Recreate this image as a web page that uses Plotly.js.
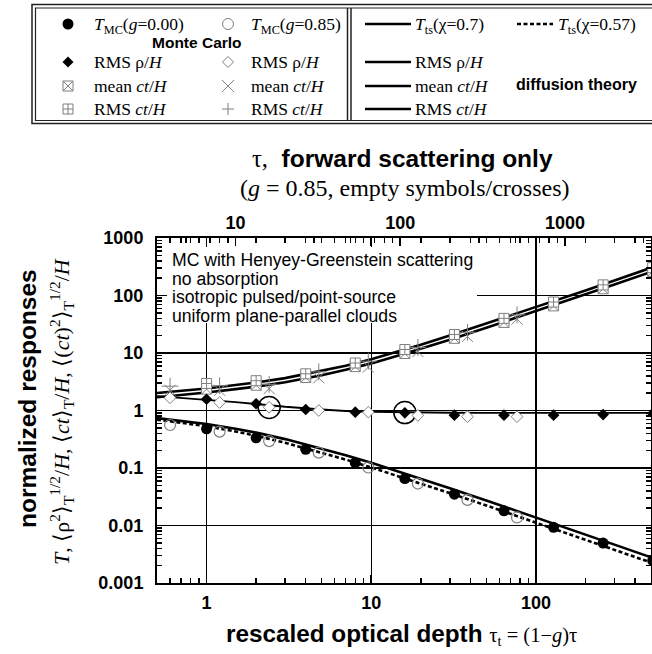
<!DOCTYPE html>
<html><head><meta charset="utf-8">
<script src="https://cdn.plot.ly/plotly-3.0.1.min.js"></script>
<style>html,body{margin:0;padding:0;background:#fff}#chart{width:652px;height:654px}</style>
</head><body><div id="chart"></div>
<script>
// ---------------- data ----------------
// Monte Carlo, g = 0.00 (filled symbols), abscissa = rescaled optical depth
const tauT_g0   = [1, 2, 4, 8, 16, 32, 64, 128, 256, 512];
const T_MC_g0   = [0.48, 0.335, 0.211, 0.124, 0.0655, 0.035, 0.018, 0.0093, 0.00495, 0.00245];
const rmsRho_g0 = [1.57, 1.31, 1.04, 0.935, 0.91, 0.83, 0.83, 0.83, 0.85, 0.89];
const meanCt_g0 = [2.35, 2.75, 3.75, 5.8, 9.8, 18, 34, 66, 131, 262];
const rmsCt_g0  = [2.95, 3.3, 4.35, 6.7, 11.5, 21, 40, 77, 153, 305];

// Monte Carlo, g = 0.85 (empty symbols / crosses), abscissa = optical depth tau (top axis)
const tau_g85    = [4, 8, 16, 32, 64, 128, 256, 512];
const T_MC_g85   = [0.56, 0.43, 0.294, 0.185, 0.102, 0.0537, 0.0279, 0.0138];
const rmsRho_g85 = [1.66, 1.38, 1.14, 1.0, 0.935, 0.82, 0.78, 0.78];
const meanCt_g85 = [2.25, 2.25, 2.4, 3.7, 5.7, 10.6, 19.4, 38.9];
const rmsCt_g85  = [2.65, 2.7, 2.85, 4.7, 7.2, 12.5, 22.9, 46];

// diffusion theory curves, abscissa = rescaled optical depth
const tauT_line   = [0.5, 0.7, 1, 1.5, 2, 3, 5, 7, 10, 15, 20, 30, 50, 70, 100, 150, 200, 300, 500];
const Ts_chi07    = [0.737, 0.667, 0.583, 0.483, 0.412, 0.318, 0.219, 0.167, 0.123, 0.0854, 0.0654, 0.0446, 0.0272, 0.0196, 0.0138, 0.00925, 0.00695, 0.00465, 0.00279];
const Ts_chi057   = [0.695, 0.620, 0.533, 0.432, 0.363, 0.275, 0.186, 0.140, 0.102, 0.0706, 0.0539, 0.0366, 0.0223, 0.0160, 0.0113, 0.00754, 0.00567, 0.00379, 0.00227];
const rmsRho_diff = [1.78, 1.66, 1.55, 1.40, 1.30, 1.16, 1.04, 0.98, 0.95, 0.93, 0.92, 0.915, 0.91, 0.91, 0.91, 0.91, 0.91, 0.91, 0.91];
const meanCt_diff = [1.70, 1.85, 2.05, 2.35, 2.6, 3.1, 4.1, 5.1, 6.6, 9.2, 11.8, 17, 27.5, 38, 53, 78, 103, 155, 257];
const rmsCt_diff  = [2.01, 2.18, 2.42, 2.77, 3.07, 3.66, 4.84, 6.0, 7.8, 10.9, 13.9, 20.1, 32.5, 44.8, 62.5, 92, 122, 183, 303];

// circled points
const circled_tauT = [2.4, 16];
const circled_val  = [1.13, 0.92];

// tick labels
const xTicks  = [1, 10, 100];
const xLabels = ['1', '10', '100'];
const x2Ticks = [10, 100, 1000];
const x2Labels = ['10', '100', '1000'];
const yTicks  = [0.001, 0.01, 0.1, 1, 10, 100, 1000];
const yLabels = ['0.001', '0.01', '0.1', '1', '10', '100', '1000'];

// ---------------- layout helpers ----------------
const Lp = 157, Rp = 651, Tp = 238, Bp = 583;
const px = x => (x - Lp) / (Rp - Lp);
const py = y => (Bp - y) / (Bp - Tp);
const GRAY = '#7f7f7f';
const SANS = 'Liberation Sans, Arial, sans-serif';
const SERIF = 'Liberation Serif, Times New Roman, serif';

function minorLog(lo, hi) {
  const v = [];
  for (let e = Math.floor(Math.log10(lo)); e <= Math.ceil(Math.log10(hi)); e++)
    for (let d = 2; d <= 9; d++) { const t = d * Math.pow(10, e); if (t > lo && t < hi) v.push(t); }
  return v;
}

// ---------------- traces ----------------
const traces = [];
// empty circles under the lines
traces.push({x: tau_g85, y: T_MC_g85, xaxis: 'x2', yaxis: 'y', mode: 'markers',
  marker: {symbol: 'circle-open', size: 11, color: GRAY, line: {width: 1.2, color: GRAY}}});
// diffusion theory
const lineStyle = {color: '#000', width: 2.6};
traces.push({x: tauT_line, y: Ts_chi057, mode: 'lines', line: {color: '#000', width: 2.6, dash: '4px,2.5px'}});
traces.push({x: tauT_line, y: Ts_chi07, mode: 'lines', line: lineStyle});
traces.push({x: tauT_line, y: rmsRho_diff, mode: 'lines', line: {color: '#000', width: 1.9}});
traces.push({x: tauT_line, y: meanCt_diff, mode: 'lines', line: lineStyle});
traces.push({x: tauT_line, y: rmsCt_diff, mode: 'lines', line: lineStyle});
// g = 0 MC
traces.push({x: tauT_g0, y: meanCt_g0, mode: 'markers',
  marker: {symbol: 'square-x', size: 10, color: '#fff', line: {width: 1, color: GRAY}}});
traces.push({x: tauT_g0, y: rmsCt_g0, mode: 'markers',
  marker: {symbol: 'square-cross', size: 10, color: '#fff', line: {width: 1, color: GRAY}}});
traces.push({x: tauT_g0, y: T_MC_g0, mode: 'markers',
  marker: {symbol: 'circle', size: 11, color: '#000'}});
// g = 0.85 MC
traces.push({x: tau_g85, y: meanCt_g85, xaxis: 'x2', yaxis: 'y', mode: 'markers',
  marker: {symbol: 'x-thin-open', size: 11, color: GRAY, line: {width: 1, color: GRAY}}});
traces.push({x: tau_g85, y: rmsCt_g85, xaxis: 'x2', yaxis: 'y', mode: 'markers',
  marker: {symbol: 'cross-thin-open', size: 12, color: GRAY, line: {width: 1, color: GRAY}}});
traces.push({x: tau_g85, y: rmsRho_g85, xaxis: 'x2', yaxis: 'y', mode: 'markers',
  marker: {symbol: 'diamond', size: 9, color: '#fff', line: {width: 1, color: GRAY}}});
traces.push({x: tauT_g0, y: rmsRho_g0, mode: 'markers',
  marker: {symbol: 'diamond', size: 9, color: '#000', line: {width: 0}}});
// circled points
traces.push({x: circled_tauT, y: circled_val, mode: 'markers',
  marker: {symbol: 'circle-open', size: 22, color: '#000', line: {width: 1.5, color: '#000'}}});

// ---------------- axes ----------------
const tickFont = {family: SANS, size: 18, color: '#000', weight: 'bold'};
const axCommon = {
  type: 'log', ticks: 'inside', ticklen: 8, tickwidth: 1.5, tickcolor: '#000',
  showline: true, linecolor: '#000', linewidth: 2, zeroline: false, tickfont: tickFont,
  tickmode: 'array'
};
const xMin = 0.5, xMax = 500, g = 0.85;
const layout = {
  width: 652, height: 654, showlegend: false,
  paper_bgcolor: '#fff', plot_bgcolor: '#fff',
  font: {family: SANS, color: '#000'},
  margin: {l: Lp, r: 652 - Rp, t: Tp, b: 654 - Bp, pad: 0},
  xaxis: Object.assign({}, axCommon, {
    range: [Math.log10(xMin), Math.log10(xMax)], tickvals: xTicks, ticktext: xLabels,
    showgrid: true, gridcolor: '#000', gridwidth: 1.4, mirror: 'ticks', ticklabelstandoff: 2,
    minor: {tickmode: 'array', tickvals: minorLog(xMin, xMax), ticks: 'inside', ticklen: 5,
            tickwidth: 1.5, tickcolor: '#000', showgrid: false}
  }),
  xaxis2: Object.assign({}, axCommon, {
    overlaying: 'x', side: 'top', anchor: 'y',
    range: [Math.log10(xMin / (1 - g)), Math.log10(xMax / (1 - g))], tickvals: x2Ticks, ticktext: x2Labels,
    showgrid: false, ticklabelstandoff: 0,
    minor: {tickmode: 'array', tickvals: minorLog(xMin / (1 - g), xMax / (1 - g)), ticks: 'inside', ticklen: 5,
            tickwidth: 1.5, tickcolor: '#000', showgrid: false}
  }),
  yaxis: Object.assign({}, axCommon, {
    range: [-3, 3], tickvals: yTicks, ticktext: yLabels,
    showgrid: true, gridcolor: '#000', gridwidth: 1.4, mirror: 'ticks', ticklabelstandoff: 8,
    minor: {tickmode: 'array', tickvals: minorLog(0.001, 1000), ticks: 'inside', ticklen: 5,
            tickwidth: 1.5, tickcolor: '#000', showgrid: false}
  }),
  shapes: [], annotations: []
};

// white box behind the note text
layout.shapes.push({type: 'rect', xref: 'paper', yref: 'paper', layer: 'above',
  x0: px(167), x1: px(477), y0: py(247), y1: py(323), fillcolor: '#fff', line: {width: 0}});
const note = ['MC with Henyey-Greenstein scattering', 'no absorption',
              'isotropic pulsed/point-source', 'uniform plane-parallel clouds'];
const noteY = [260, 278.5, 297, 315.5];
note.forEach((t, i) => layout.annotations.push({xref: 'paper', yref: 'paper', x: px(171), y: py(noteY[i]),
  xanchor: 'left', yanchor: 'middle', showarrow: false, borderpad: 0, text: t, font: {family: SANS, size: 17.6, color: '#000'}}));

// titles
const ann = (o) => layout.annotations.push(Object.assign({xref: 'paper', yref: 'paper', showarrow: false,
  xanchor: 'center', yanchor: 'middle'}, o));
ann({x: px(402), y: py(158), text: '<span style="font-family:Liberation Serif">τ,</span>  <b>forward scattering only</b>',
     font: {family: SANS, size: 24.5, color: '#000'}});
ann({x: px(405), y: py(188), text: '(<i>g</i> = 0.85, empty symbols/crosses)',
     font: {family: SERIF, size: 24, color: '#000'}});
ann({x: px(401), y: py(634), text: '<b>rescaled optical depth</b> <span style="font-family:Liberation Serif;font-size:20.5px">τ<sub>t</sub> = (1−<i>g</i>)τ</span>',
     font: {family: SANS, size: 24.3, color: '#000'}});
ann({x: px(27), y: py(399), textangle: -90, text: '<b>normalized responses</b>',
     font: {family: SANS, size: 24.5, color: '#000'}});
ann({x: px(61), y: py(412), textangle: -90,
     text: '<i>T</i>, ⟨ρ<sup>2</sup>⟩<sub>T</sub><sup>1/2</sup>/<i>H</i>, ⟨<i>ct</i>⟩<sub>T</sub>/<i>H</i>, ⟨(<i>ct</i>)<sup>2</sup>⟩<sub>T</sub><sup>1/2</sup>/<i>H</i>',
     font: {family: SERIF, size: 22, color: '#000'}});

// ---------------- custom legend ----------------
const S = layout.shapes;
const box = (x0, y0, x1, y1, w) => S.push({type: 'rect', xref: 'paper', yref: 'paper',
  x0: px(x0), x1: px(x1), y0: py(y0), y1: py(y1), line: {color: '#222', width: w}, fillcolor: 'rgba(0,0,0,0)'});
box(32, 4.5, 660, 123.5, 1.5);
box(35.5, 8, 660, 120.5, 1.2);
const vline = (x, y0, y1, w) => S.push({type: 'line', xref: 'paper', yref: 'paper',
  x0: px(x), x1: px(x), y0: py(y0), y1: py(y1), line: {color: '#222', width: w}});
vline(347.5, 8, 120.5, 1.5);
vline(351, 8, 120.5, 1.5);
const sym = (cx, cy, o) => S.push(Object.assign({xref: 'paper', yref: 'paper', xsizemode: 'pixel', ysizemode: 'pixel',
  xanchor: px(cx), yanchor: py(cy)}, o));
const rows = [24, 62, 86, 109];
// left column (g=0): filled
sym(68, rows[0], {type: 'circle', x0: -5.5, x1: 5.5, y0: -5.5, y1: 5.5, fillcolor: '#000', line: {width: 0}});
sym(68, rows[1], {type: 'path', path: 'M0,5.5L5.5,0L0,-5.5L-5.5,0Z', fillcolor: '#000', line: {width: 0}});
sym(68, rows[2], {type: 'path', path: 'M-5,-5H5V5H-5ZM-5,-5L5,5M-5,5L5,-5', fillcolor: 'rgba(0,0,0,0)', line: {width: 1, color: GRAY}});
sym(68, rows[3], {type: 'path', path: 'M-5,-5H5V5H-5ZM0,-5V5M-5,0H5', fillcolor: 'rgba(0,0,0,0)', line: {width: 1, color: GRAY}});
// second column (g=0.85): empty
sym(228, rows[0], {type: 'circle', x0: -5.5, x1: 5.5, y0: -5.5, y1: 5.5, fillcolor: '#fff', line: {width: 1, color: GRAY}});
sym(228, rows[1], {type: 'path', path: 'M0,5.5L5.5,0L0,-5.5L-5.5,0Z', fillcolor: '#fff', line: {width: 1, color: GRAY}});
sym(228, rows[2], {type: 'path', path: 'M-6,-6L6,6M-6,6L6,-6', line: {width: 1, color: GRAY}});
sym(228, rows[3], {type: 'path', path: 'M0,-6V6M-6,0H6', line: {width: 1, color: GRAY}});
const legTxt = (x, y, t, o) => layout.annotations.push(Object.assign({xref: 'paper', yref: 'paper', x: px(x), y: py(y),
  xanchor: 'left', yanchor: 'middle', showarrow: false, text: t, font: {family: SERIF, size: 17.5, color: '#000'}}, o || {}));
legTxt(92, rows[0] + 1, '<i>T</i><sub>MC</sub>(<i>g</i>=0.00)');
legTxt(249, rows[0] + 1, '<i>T</i><sub>MC</sub>(<i>g</i>=0.85)');
legTxt(92, rows[1], 'RMS ρ/<i>H</i>');
legTxt(249, rows[1], 'RMS ρ/<i>H</i>');
legTxt(92, rows[2], 'mean <i>ct</i>/<i>H</i>');
legTxt(249, rows[2], 'mean <i>ct</i>/<i>H</i>');
legTxt(92, rows[3], 'RMS <i>ct</i>/<i>H</i>');
legTxt(249, rows[3], 'RMS <i>ct</i>/<i>H</i>');
ann({x: px(197), y: py(42), text: '<b>Monte Carlo</b>', font: {family: SANS, size: 15.5, color: '#000'}});
// right column: diffusion theory lines
const hline = (x0, x1, y, dash) => S.push({type: 'line', xref: 'paper', yref: 'paper',
  x0: px(x0), x1: px(x1), y0: py(y), y1: py(y), line: {color: '#000', width: 2.4, dash: dash || 'solid'}});
hline(365, 411, rows[0]);
hline(517, 553, rows[0], '4px,2.5px');
hline(365, 411, rows[1]);
hline(365, 411, rows[2]);
hline(365, 411, rows[3]);
legTxt(413, rows[0] + 1, '<i>T</i><sub>ts</sub>(χ=0.7)');
legTxt(556, rows[0] + 1, '<i>T</i><sub>ts</sub>(χ=0.57)');
legTxt(413, rows[1], 'RMS ρ/<i>H</i>');
legTxt(413, rows[2], 'mean <i>ct</i>/<i>H</i>');
legTxt(413, rows[3], 'RMS <i>ct</i>/<i>H</i>');
ann({x: px(576), y: py(85), text: '<b>diffusion theory</b>', font: {family: SANS, size: 16, color: '#000'}});

Plotly.newPlot('chart', traces, layout, {staticPlot: true, displayModeBar: false});
</script>
</body></html>
